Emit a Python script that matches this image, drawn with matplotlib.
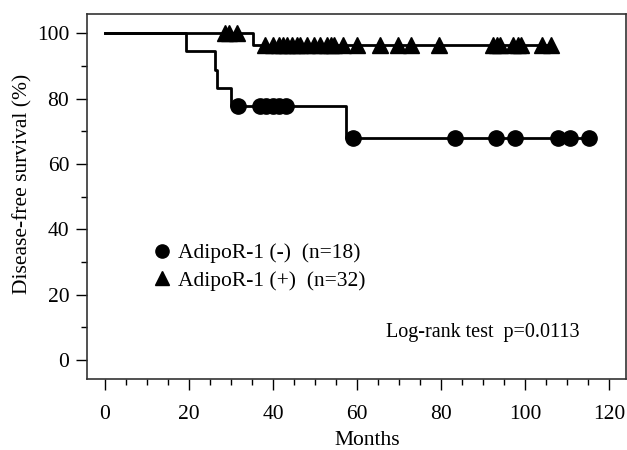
import numpy as np
import matplotlib
matplotlib.use('Agg')
import matplotlib.pyplot as plt
from matplotlib.lines import Line2D
from matplotlib.ticker import MultipleLocator

plt.rcParams['font.family'] = ['Liberation Serif', 'DejaVu Serif']

# AdipoR-1 (-) group, n=18  (event 1 = recurrence, 0 = censored)
neg_time = [19.3, 26.2, 26.6, 29.9, 31.7, 36.9, 38.4, 39.9, 41.5, 43.1,
            57.3, 59.0, 83.3, 93.0, 97.5, 107.8, 110.6, 115.3]
neg_event = [1, 1, 1, 1, 0, 0, 0, 0, 0, 0,
             1, 0, 0, 0, 0, 0, 0, 0]

# AdipoR-1 (+) group, n=32
pos_time = [28.6, 29.6, 31.3, 35.3,
            38.1, 40.0, 41.3, 42.4, 43.2, 44.4, 45.6, 46.4, 48.0, 49.8,
            51.2, 52.8, 53.7, 54.5, 56.7, 59.9,
            65.5, 69.7, 72.8, 79.6, 92.3, 93.2, 93.9, 97.0, 98.4, 99.0,
            104.0, 106.2]
pos_event = [0, 0, 0, 1] + [0] * 28

labels = ['AdipoR-1 (-)  (n=18)', 'AdipoR-1 (+)  (n=32)']
pval_text = 'Log-rank test  p=0.0113'


def kaplan_meier(times, events):
    t = np.array(times)
    e = np.array(events)
    xs = [0.0]
    ys = [100.0]
    s = 1.0
    for ut in np.unique(t):
        d = e[t == ut].sum()
        n = (t >= ut).sum()
        if d > 0:
            s *= 1 - d / n
            xs.append(ut)
            ys.append(s * 100)
    xs.append(t.max())
    ys.append(s * 100)
    return np.array(xs), np.array(ys)


def surv_at(xs, ys, t):
    idx = np.searchsorted(xs, t, side='right') - 1
    return ys[idx]


fig = plt.figure(figsize=(6.27, 4.5), dpi=100)
ax = fig.add_axes([86.5 / 627, 1 - 379 / 450, 539.5 / 627, 365 / 450])

groups = [(neg_time, neg_event, 'o'), (pos_time, pos_event, '^')]
for times, events, mk in groups:
    xs, ys = kaplan_meier(times, events)
    ax.plot(xs, ys, drawstyle='steps-post', color='black', lw=2.0)
    ct = np.array([tt for tt, ee in zip(times, events) if ee == 0])
    cy = np.array([surv_at(xs, ys, tt) for tt in ct])
    ax.plot(ct, cy, linestyle='none', marker=mk, color='black', ms=11)

ax.set_xlim(-4.4, 124)
ax.set_ylim(-5.8, 105.9)
ax.xaxis.set_major_locator(MultipleLocator(20))
ax.xaxis.set_minor_locator(MultipleLocator(5))
ax.yaxis.set_major_locator(MultipleLocator(20))
ax.yaxis.set_minor_locator(MultipleLocator(10))
ax.tick_params(which='major', direction='out', length=8, width=1, labelsize=15.5)
ax.tick_params(which='minor', direction='out', length=4.5, width=1)
ax.tick_params(axis='x', which='major', pad=10.5)
ax.tick_params(axis='y', which='major', pad=4.5)
for sp in ax.spines.values():
    sp.set_linewidth(1.2)
    sp.set_color('#333333')

ax.set_xlabel('Months', fontsize=15.5, va='baseline')
ax.set_ylabel('Disease-free survival (%)', fontsize=15.5)
ax.xaxis.set_label_coords(0.521, -0.181)
ax.yaxis.set_label_coords(-0.101, 0.5356)

handles = [Line2D([], [], linestyle='none', marker='o', color='black', ms=9.5),
           Line2D([], [], linestyle='none', marker='^', color='black', ms=9.5)]
ax.legend(handles, labels, loc='upper left', bbox_to_anchor=(0.1246, 0.372),
          frameon=False, fontsize=15.5, handlelength=0.8, handletextpad=0.32,
          labelspacing=0.35, borderpad=0, borderaxespad=0)

ax.text(0.9129, 0.116, pval_text, transform=ax.transAxes, ha='right',
        va='baseline', fontsize=14.5)

fig.savefig('out.png', dpi=100)
